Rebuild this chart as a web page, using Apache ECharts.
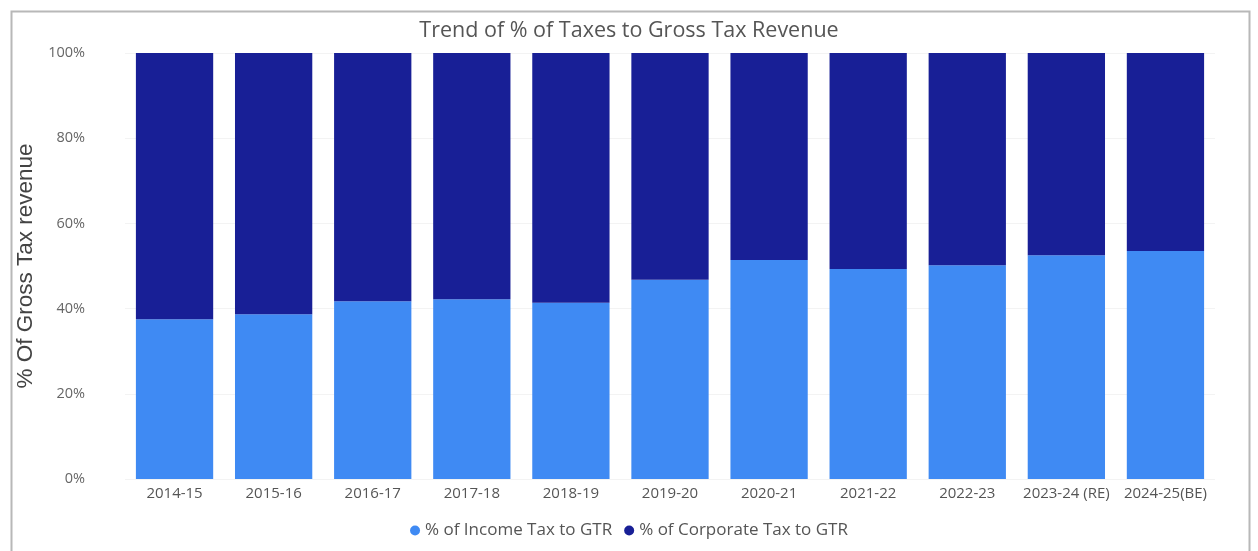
<!DOCTYPE html>
<html>
<head>
<meta charset="utf-8">
<script src="https://cdn.jsdelivr.net/npm/echarts@6/dist/echarts.min.js"></script>
<style>
  html, body { margin: 0; padding: 0; background: #ffffff; }
  #chart { width: 1258px; height: 551px; }
</style>
</head>
<body>
<div id="chart"></div>
<script>
// Fiscal years on the x axis
const years = ['2014-15', '2015-16', '2016-17', '2017-18', '2018-19', '2019-20',
  '2020-21', '2021-22', '2022-23', '2023-24 (RE)', '2024-25(BE)'];

// Share of gross tax revenue (percent)
const incomeTaxShare = [37.5, 38.7, 41.7, 42.2, 41.4, 46.8, 51.4, 49.3, 50.2, 52.5, 53.5];
const corporateTaxShare = [62.5, 61.3, 58.3, 57.8, 58.6, 53.2, 48.6, 50.7, 49.8, 47.5, 46.5];

const yTicks = [0, 20, 40, 60, 80, 100];

const chart = echarts.init(document.getElementById('chart'), null, { renderer: 'canvas' });

const font = '"Open Sans", "Noto Sans", sans-serif';

chart.setOption({
  backgroundColor: '#ffffff',
  animation: false,
  textStyle: { fontFamily: font },
  graphic: [{
    type: 'rect',
    shape: { x: 11.5, y: 11.5, width: 1238, height: 545 },
    style: { fill: 'none', stroke: '#b8b8b8', lineWidth: 2 },
    z: -1
  }],
  title: {
    text: 'Trend of % of Taxes to Gross Tax Revenue',
    left: 'center',
    top: 15,
    textStyle: { fontFamily: font, fontSize: 21.5, fontWeight: 'normal', color: '#555555' }
  },
  legend: {
    bottom: 7,
    left: 'center',
    itemWidth: 10,
    itemHeight: 10,
    itemGap: 12,
    icon: 'circle',
    textStyle: { fontFamily: font, fontSize: 17, color: '#555555' },
    data: ['% of Income Tax to GTR', '% of Corporate Tax to GTR']
  },
  grid: { left: 125, right: 43, top: 53, bottom: 72 },
  xAxis: {
    type: 'category',
    data: years,
    axisLine: { show: false },
    axisTick: { show: false },
    axisLabel: { fontFamily: font, fontSize: 15, color: '#555555', margin: 7, interval: 0 }
  },
  yAxis: {
    type: 'value',
    min: yTicks[0],
    max: yTicks[yTicks.length - 1],
    interval: 20,
    name: '% Of Gross Tax revenue',
    nameLocation: 'middle',
    nameGap: 79,
    nameTextStyle: { fontFamily: '"Liberation Sans", Arial, sans-serif', fontSize: 22.5, color: '#444444' },
    axisLine: { show: false },
    axisTick: { show: false },
    axisLabel: { fontFamily: font, fontSize: 14.5, color: '#666666', margin: 40, formatter: '{value}%' },
    splitLine: { show: true, lineStyle: { color: '#f3f3f3', width: 1 } }
  },
  series: [
    {
      name: '% of Income Tax to GTR',
      type: 'bar',
      stack: 'total',
      barCategoryGap: '22%',
      itemStyle: { color: '#3f8af3' },
      data: incomeTaxShare
    },
    {
      name: '% of Corporate Tax to GTR',
      type: 'bar',
      stack: 'total',
      barCategoryGap: '22%',
      itemStyle: { color: '#181f96' },
      data: corporateTaxShare
    }
  ]
});
</script>
</body>
</html>
